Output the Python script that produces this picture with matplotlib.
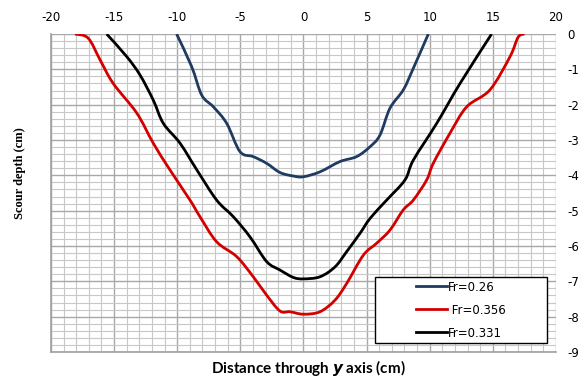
import numpy as np
import matplotlib
matplotlib.use("Agg")
from matplotlib import pyplot as plt
from matplotlib.patches import Rectangle, PathPatch
from matplotlib.path import Path
from matplotlib.lines import Line2D

plt.rcParams['axes.unicode_minus'] = False

# Fr = 0.26
x026 = [-10.05, -8.86, -8.06, -7.14, -6.08, -5.03, -3.98, -2.92, -1.86, -0.8, 0.0,
        1.31, 2.89, 4.21, 5.27, 6.06, 6.85, 7.91, 8.70, 9.89]
y026 = [0.0, -0.92, -1.73, -2.06, -2.53, -3.33, -3.47, -3.66, -3.92, -4.02, -4.04,
        -3.90, -3.61, -3.47, -3.19, -2.86, -2.10, -1.58, -0.97, 0.0]

# Fr = 0.356
x0356 = [-18.1, -17.05, -16.1, -15.07, -13.2, -11.9, -10.57, -8.99, -8.2, -6.88, -5.29,
         -3.98, -2.92, -1.86, -1.07, 0.0, 1.31, 2.5, 3.42, 4.74, 5.8, 6.85, 7.9,
         8.70, 9.76, 10.28, 11.6, 12.93, 14.77, 16.36, 17.0, 17.5]
y0356 = [0.0, -0.12, -0.74, -1.40, -2.24, -3.09, -3.85, -4.70, -5.17, -5.88, -6.30,
         -6.87, -7.39, -7.84, -7.86, -7.93, -7.86, -7.53, -7.06, -6.26, -5.92, -5.55, -4.98,
         -4.70, -4.13, -3.66, -2.81, -2.06, -1.58, -0.64, -0.09, 0.0]

# Fr = 0.331
x0331 = [-15.59, -14.0, -12.95, -11.9, -11.1, -9.78, -8.44, -6.88, -5.56, -4.24, -2.92,
         -1.86, -0.8, 0.0, 1.31, 2.5, 3.42, 4.48, 5.27, 6.59, 8.04, 8.70, 10.55, 12.4, 14.9]
y0331 = [0.0, -0.64, -1.16, -1.87, -2.53, -3.09, -3.85, -4.70, -5.17, -5.74, -6.44,
         -6.68, -6.89, -6.93, -6.87, -6.59, -6.16, -5.64, -5.22, -4.70, -4.13, -3.57, -2.53, -1.40, 0.0]

labels = ['Fr=0.26', ' Fr=0.356', 'Fr=0.331']
colors = ['#1f3b60', '#d40000', 'black']


def smooth_path(xs, ys):
    # excel-like smoothed line: catmull-rom segments as cubic beziers
    p = np.column_stack([xs, ys])
    q = np.vstack([p[0], p, p[-1]])
    verts = [p[0]]
    codes = [Path.MOVETO]
    for i in range(1, len(q) - 2):
        c1 = q[i] + (q[i + 1] - q[i - 1]) / 6
        c2 = q[i + 1] - (q[i + 2] - q[i]) / 6
        verts += [c1, c2, q[i + 1]]
        codes += [Path.CURVE4] * 3
    return Path(verts, codes)


fig = plt.figure(figsize=(5.82, 3.79), dpi=100)
ax = fig.add_axes([0.0876, 0.0712, 0.8677, 0.8391])

handles = []
for xs, ys, c in [(x026, y026, colors[0]), (x0356, y0356, colors[1]), (x0331, y0331, colors[2])]:
    ax.add_patch(PathPatch(smooth_path(xs, ys), facecolor='none', edgecolor=c, lw=2.0,
                           joinstyle='round', capstyle='butt', zorder=3))
    handles.append(Line2D([], [], color=c, lw=2.0))

ax.set_xlim(-20, 20)
ax.set_ylim(-9, 0)
ax.set_xticks(np.arange(-20, 21, 5))
ax.set_yticks(np.arange(-9, 1, 1))
ax.set_xticks(np.arange(-20, 21, 1), minor=True)
ax.set_yticks(np.arange(-9, 0.01, 0.2), minor=True)
ax.xaxis.tick_top()
ax.yaxis.tick_right()
ax.tick_params(which='both', length=0, labelsize=8.5, colors='black')
ax.tick_params(axis='x', pad=7)
ax.tick_params(axis='y', pad=8)
ax.grid(True, which='minor', color='#c8c8c8', lw=0.8)
ax.grid(True, which='major', color='#a8a8a8', lw=1.0)
ax.set_axisbelow(True)
for s in ['top', 'right']:
    ax.spines[s].set_visible(False)
for s in ['left', 'bottom']:
    ax.spines[s].set_color('#a0a0a0')
    ax.spines[s].set_linewidth(1.2)

fig.text(0.034, 0.544, 'Scour depth (cm)', rotation=90, ha='center', va='center',
         family='Liberation Serif', weight='bold', fontsize=9)
fig.text(0.53, 0.028, 'Distance through $\\boldsymbol{y}$ axis (cm)', ha='center', va='center',
         family='Lato', weight='bold', fontsize=11)

ax.add_patch(Rectangle((0.642, 0.028), 0.34, 0.208, transform=ax.transAxes,
                       facecolor='white', edgecolor='black', lw=1.0, zorder=5))
leg = ax.legend(handles, labels,
                loc='center', bbox_to_anchor=(0.642, 0.028, 0.34, 0.208),
                frameon=False, fontsize=8.5, handlelength=2.6, handletextpad=0.1,
                labelspacing=0.85)
leg.set_zorder(6)

plt.savefig("out.png", dpi=100)
